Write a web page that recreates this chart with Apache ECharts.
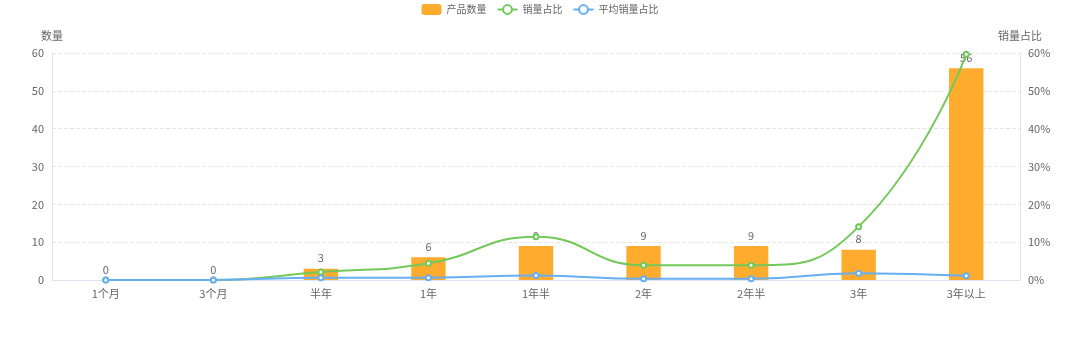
<!DOCTYPE html>
<html><head><meta charset="utf-8">
<script src="https://cdn.jsdelivr.net/npm/echarts@6/dist/echarts.min.js"></script>
<style>html,body{margin:0;padding:0;background:#fff}#c{width:1080px;height:338px}</style>
</head><body><div id="c"></div>
<script>
var categories = ['1个月','3个月','半年','1年','1年半','2年','2年半','3年','3年以上'];
var productCount = [0,0,3,6,9,9,9,8,56];
var salesShare = [0,0,2.1,4.4,11.4,3.9,3.9,14.1,59.7];
var avgSalesShare = [0,0,0.6,0.6,1.2,0.3,0.3,1.8,1.1];
var leftTicks = {min:0,max:60,interval:10};
var rightTicks = {min:0,max:60,interval:10};

var font = '"Microsoft YaHei","Noto Sans CJK SC",sans-serif';
var chart = echarts.init(document.getElementById('c'));
chart.setOption({
  animation:false,
  textStyle:{fontFamily:font},
  color:['#FFAC2E','#72C95A','#66AFF3'],
  legend:{top:0,padding:[4,5],left:'center',itemWidth:20,itemHeight:11,itemGap:10,
    textStyle:{color:'#666',fontSize:10,fontFamily:font},
    data:['产品数量','销量占比','平均销量占比']},
  grid:{left:52,right:60,top:53,bottom:58},
  xAxis:{type:'category',data:categories,
    axisLine:{lineStyle:{color:'#E0E6F1'}},
    axisTick:{lineStyle:{color:'#E0E6F1'}},
    axisLabel:{color:'#666',fontSize:11,margin:8}},
  yAxis:[{type:'value',name:'数量',min:leftTicks.min,max:leftTicks.max,interval:leftTicks.interval,
      nameTextStyle:{color:'#666',fontSize:11},nameGap:12,
      axisLine:{show:true,lineStyle:{color:'#E0E6F1'}},
      axisLabel:{color:'#666',fontSize:11},
      splitLine:{lineStyle:{type:'dashed',color:'#E6E6E6'}}},
    {type:'value',name:'销量占比',min:rightTicks.min,max:rightTicks.max,interval:rightTicks.interval,
      nameTextStyle:{color:'#666',fontSize:11},nameGap:12,
      axisLine:{show:true,lineStyle:{color:'#E0E6F1'}},
      axisLabel:{color:'#666',fontSize:11,formatter:'{value}%'},
      splitLine:{show:false}}],
  series:[
    {name:'产品数量',type:'bar',data:productCount,barWidth:'32%',
      label:{show:true,position:'top',color:'#666',fontSize:11}},
    {name:'销量占比',type:'line',yAxisIndex:1,data:salesShare,smooth:true,
      symbol:'emptyCircle',symbolSize:5,itemStyle:{borderWidth:1},lineStyle:{width:2}},
    {name:'平均销量占比',type:'line',yAxisIndex:1,data:avgSalesShare,smooth:true,
      symbol:'emptyCircle',symbolSize:5,itemStyle:{borderWidth:1},lineStyle:{width:2}}
  ]
});
</script></body></html>
